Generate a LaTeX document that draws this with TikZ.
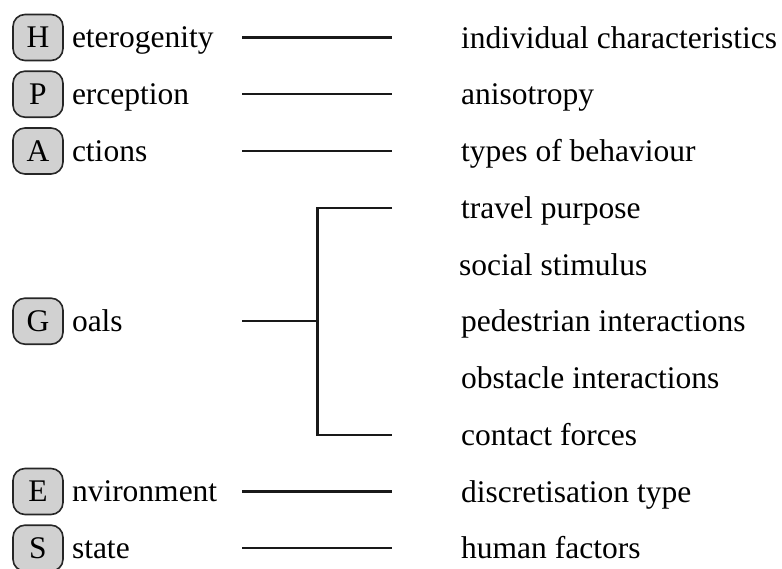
\documentclass[tikz,border=0pt]{standalone}
\usepackage{fontspec}
\setmainfont{Liberation Serif}
\begin{document}
\begin{tikzpicture}[x=1pt,y=1pt,
  font=\fontsize{31.5}{36}\selectfont,
  letterbox/.style={draw=black!85, line width=1.6pt, fill=black!18, rounded corners=12pt,
    minimum width=50pt, minimum height=46pt, inner sep=0pt},
  word/.style={anchor=base west, inner sep=0pt},
  item/.style={anchor=base west, inner sep=0pt},
  conn/.style={line width=2.4pt, draw=black!90}]
\useasboundingbox (0,0) rectangle (782,-568);
% rows
\def\rA{-37.5}\def\rB{-94.2}\def\rC{-151}\def\rD{-207.7}\def\rE{-264.5}
\def\rF{-321.2}\def\rG{-378}\def\rH{-434.7}\def\rI{-491.5}\def\rJ{-548.2}
\def\bo{10.5}
% left boxes
\node[letterbox] (bH) at (38,\rA) {H};
\node[letterbox] (bP) at (38,\rB) {P};
\node[letterbox] (bA) at (38,\rC) {A};
\node[letterbox] (bG) at (38,\rF) {G};
\node[letterbox] (bE) at (38,\rI) {E};
\node[letterbox] (bS) at (38,\rJ) {S};
\node[word] (wH) at ([xshift=8pt]bH.base east) {eterogenity};
\node[word] (wP) at ([xshift=8pt]bP.base east) {erception};
\node[word] (wA) at ([xshift=8pt]bA.base east) {ctions};
\node[word] (wG) at ([xshift=8pt]bG.base east) {oals};
\node[word] (wE) at ([xshift=8pt]bE.base east) {nvironment};
\node[word] (wS) at ([xshift=8pt]bS.base east) {state};
% right items
\node[item] (i1) at (461,\rA-\bo) {individual characteristics};
\node[item] (i2) at (461,\rB-\bo) {anisotropy};
\node[item] (i3) at (461,\rC-\bo) {types of behaviour};
\node[item] (i4) at (461,\rD-\bo) {travel purpose};
\node[item] (i5) at (459,\rE-\bo) {social stimulus};
\node[item] (i6) at (461,\rF-\bo) {pedestrian interactions};
\node[item] (i7) at (461,\rG-\bo) {obstacle interactions};
\node[item] (i8) at (461,\rH-\bo) {contact forces};
\node[item] (i9) at (461,\rI-\bo) {discretisation type};
\node[item] (i10) at (461,\rJ-\bo) {human factors};
% connector ends
\coordinate (lH) at (242,\rA); \coordinate (rH) at (392,\rA);
\coordinate (lP) at (242,\rB); \coordinate (rP) at (392,\rB);
\coordinate (lA) at (242,\rC); \coordinate (rA) at (392,\rC);
\coordinate (lG) at (242,\rF); \coordinate (jG) at (317.5,\rF);
\coordinate (tG) at (392,\rD); \coordinate (uG) at (392,\rH);
\coordinate (lE) at (242,\rI); \coordinate (rE) at (392,\rI);
\coordinate (lS) at (242,\rJ); \coordinate (rS) at (392,\rJ);
\draw[conn] (lH) -- (rH);
\draw[conn] (lP) -- (rP);
\draw[conn] (lA) -- (rA);
\draw[conn] (lG) -- (jG);
\draw[conn] (tG) -| (jG) |- (uG);
\draw[conn] (lE) -- (rE);
\draw[conn] (lS) -- (rS);
\end{tikzpicture}
\end{document}
